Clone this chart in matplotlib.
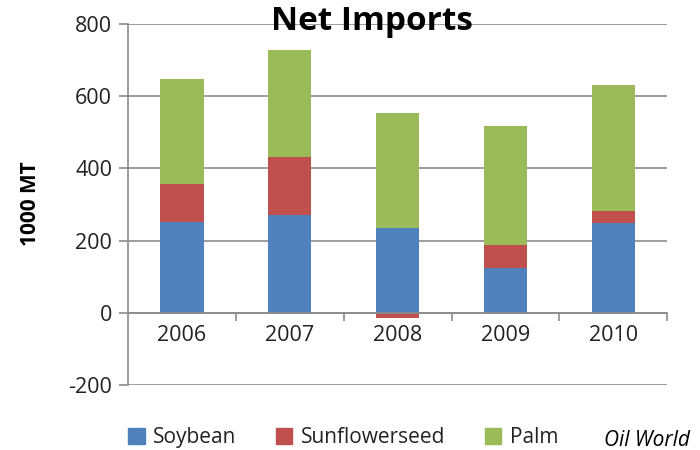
import matplotlib.pyplot as plt
import numpy as np
from matplotlib.patches import Patch

# datos (1000 MT)
anios = ["2006", "2007", "2008", "2009", "2010"]
soybean = [253, 270, 235, 124, 250]
sunflower = [103, 161, -13, 65, 31]
palm = [292, 296, 317, 327, 349]

plt.rcParams['font.family'] = ['Open Sans', 'DejaVu Sans']

fig = plt.figure(figsize=(7, 4.5), dpi=100)
ax = fig.add_axes([0.183, 0.144, 0.770, 0.803])

x = np.arange(len(anios))
soy = np.array(soybean)
sun = np.array(sunflower)
pal = np.array(palm)

# apilado: lo negativo va bajo cero, lo positivo se suma arriba
pos_base = soy.copy()
sun_bottom = np.where(sun >= 0, pos_base, 0)
pos_base = pos_base + np.where(sun > 0, sun, 0)

w = 0.4
ax.bar(x, soy, w, color="#4F81BD", zorder=3)
ax.bar(x, sun, w, bottom=sun_bottom, color="#C0504D", zorder=3)
ax.bar(x, pal, w, bottom=pos_base, color="#9BBB59", zorder=3)

ax.set_xlim(-0.5, 4.5)
ax.set_ylim(-200, 800)
ax.set_yticks([-200, 0, 200, 400, 600, 800])
ax.set_yticklabels(["-200", "0", "200", "400", "600", "800"])
ax.yaxis.grid(True, color="#8c8c8c", linewidth=1.2, zorder=0)
ax.tick_params(axis='y', length=6.5, color="#8c8c8c", labelsize=15.5, labelcolor="#222222",
               width=1.2, pad=5)

# eje x en cero con marcas entre categorias
ax.spines['bottom'].set_position(('data', 0))
ax.spines['bottom'].set_color("#8c8c8c")
ax.spines['bottom'].set_linewidth(1.2)
ax.spines['bottom'].set_zorder(4)
ax.spines['left'].set_color("#8c8c8c")
ax.spines['left'].set_linewidth(1.2)
ax.spines['top'].set_visible(False)
ax.spines['right'].set_visible(False)
ax.set_xticks(np.arange(0.5, 5, 1))
ax.set_xticklabels([])
ax.set_xticks(x, minor=True)
ax.set_xticklabels(anios, minor=True)
ax.tick_params(axis='x', which='major', length=6, color="#8c8c8c", width=1.2, direction='out')
ax.tick_params(axis='x', which='minor', length=0, labelsize=15.5, labelcolor="#222222", pad=9)

fig.text(0.044, 1 - 204 / 450, "1000 MT", fontsize=15, fontweight='bold', rotation=90,
         ha='center', va='center')
fig.text(0.531, 1 - 30 / 450, "Net Imports", fontsize=24, fontweight='bold', ha='center',
         va='baseline')

handles = [Patch(color="#4F81BD", label="Soybean"),
           Patch(color="#C0504D", label="Sunflowerseed"),
           Patch(color="#9BBB59", label="Palm")]
fig.legend(handles=handles, loc='center', bbox_to_anchor=(0.49, 0.027), ncol=3, frameon=False,
           fontsize=15, handlelength=0.8, handleheight=0.8, handletextpad=0.4,
           columnspacing=1.9, labelcolor="#222222")
fig.text(0.986, 0.022, "Oil World", fontsize=15, style='italic', ha='right', va='center')

plt.savefig("out.png", dpi=100)
